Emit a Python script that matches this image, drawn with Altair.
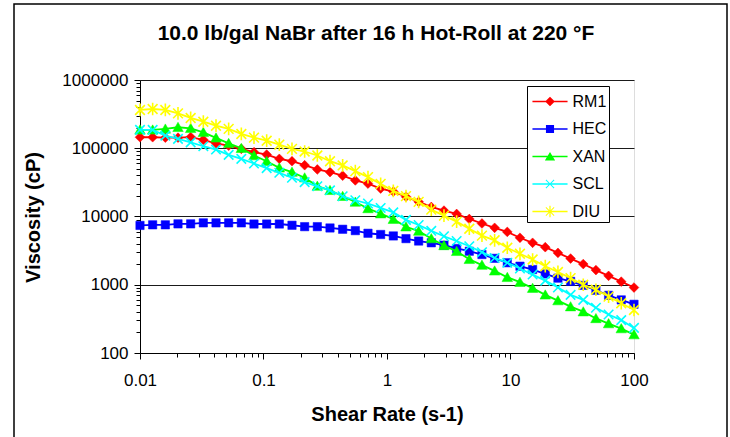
import altair as alt
import pandas as pd

# ---------------- data ----------------
SHEAR = [0.01, 0.01266, 0.01604, 0.02031, 0.02572, 0.03257, 0.04125, 0.05223, 0.06614, 0.08376,
         0.1061, 0.1343, 0.1701, 0.2154, 0.2728, 0.3455, 0.4375, 0.554, 0.7015, 0.8884,
         1.125, 1.425, 1.804, 2.284, 2.893, 3.663, 4.639, 5.874, 7.438, 9.42,
         11.93, 15.1, 19.12, 24.22, 30.66, 38.83, 49.17, 62.26, 78.85, 100]

RM1 = [145000, 145000, 143000, 143000, 146000, 133000, 118000, 109000, 98000, 87500,
       80900, 70000, 64500, 56400, 48900, 44700, 39600, 33800, 30300, 25700,
       23200, 19500, 16400, 13800, 12200, 10900, 9200, 7900, 6830, 5950,
       4880, 4120, 3550, 2930, 2420, 2010, 1640, 1350, 1110, 910]

HEC = [7400, 7550, 7550, 7800, 7800, 8070, 8070, 8070, 8070, 7760,
       7760, 7760, 7440, 7100, 7100, 6790, 6500, 6210, 5680, 5450,
       5190, 4740, 4370, 4120, 3800, 3400, 3100, 2770, 2440, 2100,
       1870, 1670, 1440, 1250, 1120, 980, 830, 700, 600, 517]

XAN = [186000, 186000, 192000, 203000, 196000, 171000, 142000, 118000, 100000, 78000,
       64600, 51700, 44700, 37000, 27900, 24200, 19800, 16300, 13100, 11000,
       9140, 7080, 6110, 4750, 3760, 3090, 2360, 1940, 1600, 1285,
       1090, 891, 712, 586, 478, 403, 321, 270, 228, 186]

SCL = [186000, 186000, 153000, 137000, 122000, 107000, 95700, 80100, 70000, 59800,
       51100, 43700, 37000, 31900, 27700, 24200, 19800, 17300, 15500, 13350,
       11500, 8920, 7510, 6170, 5140, 4370, 3660, 3000, 2470, 2100,
       1730, 1410, 1150, 912, 712, 600, 461, 367, 303, 233]

DIU = [364000, 376000, 364000, 324000, 278000, 245000, 214000, 192000, 162000, 143000,
       129000, 113000, 98000, 89600, 78300, 64600, 56000, 46200, 37800, 30100,
       23700, 19900, 16400, 12600, 10300, 8410, 6610, 5250, 4480, 3480,
       2840, 2340, 1870, 1540, 1250, 1000, 844, 671, 535, 427]

SERIES = ["RM1", "HEC", "XAN", "SCL", "DIU"]
VALUES = [RM1, HEC, XAN, SCL, DIU]
COLORS = ["#FF0000", "#0000FF", "#00FF00", "#00FFFF", "#FFFF00"]

X_TICKS = [0.01, 0.1, 1, 10, 100]
Y_TICKS = [100, 1000, 10000, 100000, 1000000]
X_MINOR = [m * d for d in [0.01, 0.1, 1, 10] for m in range(2, 10)]
Y_MINOR = [m * d for d in [100, 1000, 10000, 100000] for m in range(2, 10)]

TITLE = "10.0 lb/gal NaBr after 16 h Hot-Roll at 220 \u00b0F"
X_TITLE = "Shear Rate (s-1)"
Y_TITLE = "Viscosity (cP)"

# ---------------- styling ----------------
FONT = "Liberation Sans"
W, H = 494, 273
PAD_L, PAD_T = 140, 80

# marker shapes (custom paths)
MARKERS = {
    "RM1": ("M0,-1L1,0L0,1L-1,0Z", True, 95),
    "HEC": ("M-1,-1H1V1H-1Z", True, 70),
    "XAN": ("M0,-1L1.05,0.85L-1.05,0.85Z", True, 100),
    "SCL": ("M-1,-1L1,1M-1,1L1,-1", False, 90),
    "DIU": ("M-1,-1L1,1M-1,1L1,-1M0,-1.3L0,1.3", False, 95),
}

LINE = "M-1.3,-0.06H1.3V0.06H-1.3Z"
XPATH = ("M-0.33,-0.28L-0.28,-0.33L0.33,0.28L0.28,0.33Z"
         "M0.33,-0.28L-0.28,0.33L-0.33,0.28L0.28,-0.33Z")
LEG_PATHS = [
    LINE + "M0,-0.36L0.36,0L0,0.36L-0.36,0Z",
    LINE + "M-0.3,-0.3H0.3V0.3H-0.3Z",
    LINE + "M0,-0.34L0.38,0.3L-0.38,0.3Z",
    LINE + XPATH,
    LINE + XPATH + "M-0.045,-0.42H0.045V0.42H-0.045Z",
]

rows = []
for name, vals in zip(SERIES, VALUES):
    for x, v in zip(SHEAR, vals):
        rows.append({"series": name, "shear": x, "visc": v})
df = pd.DataFrame(rows)

MAJOR = "abs(log(datum.value)/LN10 - round(log(datum.value)/LN10)) < 0.001"

x_axis = alt.Axis(
    values=X_TICKS + X_MINOR, format="~g",
    labelExpr=f"({MAJOR}) ? datum.label : ''",
    tickSize={"condition": {"test": MAJOR, "value": 6}, "value": 4},
    grid=False, domainColor="black", tickColor="black", domainWidth=1,
    labelFont=FONT, labelFontSize=17, labelColor="black", labelPadding=13,
    labelFlush=False, labelOverlap=False,
    titleFont=FONT, titleFontSize=20, titleFontWeight="bold", titleColor="black",
    titleY=61, titleBaseline="middle",
)
y_axis = alt.Axis(
    values=Y_TICKS + Y_MINOR, format="d",
    labelExpr=f"({MAJOR}) ? datum.label : ''",
    tickSize={"condition": {"test": MAJOR, "value": 6}, "value": 4},
    grid=True, gridColor="#1a1a1a", gridWidth=1.2,
    gridOpacity={"condition": {"test": MAJOR, "value": 1}, "value": 0},
    domainColor="black", tickColor="black", domainWidth=1,
    labelFont=FONT, labelFontSize=17, labelColor="black", labelPadding=6,
    labelFlush=False, labelOverlap=False,
    titleFont=FONT, titleFontSize=20, titleFontWeight="bold", titleColor="black",
    titleX=-107, titleY=137, titleBaseline="middle", titleAngle=-90,
)

X = alt.X("shear:Q", scale=alt.Scale(type="log", domain=[0.01, 100]), axis=x_axis, title=X_TITLE)
Y = alt.Y("visc:Q", scale=alt.Scale(type="log", domain=[100, 1000000]), axis=y_axis, title=Y_TITLE)

frame = alt.Chart(pd.DataFrame({"a": [0]})).mark_rect(
    fillOpacity=0, stroke="black", strokeWidth=1.5
).encode(
    x=alt.value(14 - PAD_L), x2=alt.value(727 - PAD_L),
    y=alt.value(4 - PAD_T), y2=alt.value(445 - PAD_T),
)

layers = [frame]
for name, col in zip(SERIES, COLORS):
    sub = alt.Chart(df).transform_filter(alt.datum.series == name)
    layers.append(sub.mark_line(color=col, strokeWidth=1.8).encode(x=X, y=Y))
    path, filled, size = MARKERS[name]
    if filled:
        pts = sub.mark_point(shape=path, filled=True, fill=col, stroke=col, strokeWidth=0.5,
                             size=size, opacity=1)
    else:
        pts = sub.mark_point(shape=path, filled=False, stroke=col, strokeWidth=1.6,
                             size=size, opacity=1)
    layers.append(pts.encode(x=X, y=Y))

legend = alt.Legend(
    title=None, orient="none", legendX=387, legendY=6, padding=2,
    fillColor="white", strokeColor="black",
    symbolSize=729, symbolStrokeWidth=0, symbolOffset=7.5, symbolOpacity=1,
    labelOffset=9, labelFont=FONT, labelFontSize=16, labelColor="black",
    rowPadding=5.5, labelExpr="datum.label + '\u00a0\u00a0'",
)
legend_layer = alt.Chart(df).transform_filter("false").mark_point(
    filled=True, size=729, opacity=1
).encode(
    x=X, y=Y,
    color=alt.Color("series:N", scale=alt.Scale(domain=SERIES, range=COLORS), legend=legend),
    shape=alt.Shape("series:N", scale=alt.Scale(domain=SERIES, range=LEG_PATHS), legend=legend),
)
layers.append(legend_layer)

chart = alt.layer(*layers).properties(
    width=W, height=H,
    title=alt.TitleParams(TITLE, font=FONT, fontSize=21, fontWeight="bold", color="black",
                          anchor="middle", dx=-11, offset=-58, baseline="alphabetic"),
    padding={"left": PAD_L, "top": PAD_T, "right": 730 - PAD_L - W, "bottom": 437 - PAD_T - H},
    autosize="none",
).configure_view(
    fill="#C0C0C0", stroke="#808080", strokeWidth=1.5
).configure(background="white")

chart.save("out.html", embed_options={"renderer": "svg", "actions": False})
